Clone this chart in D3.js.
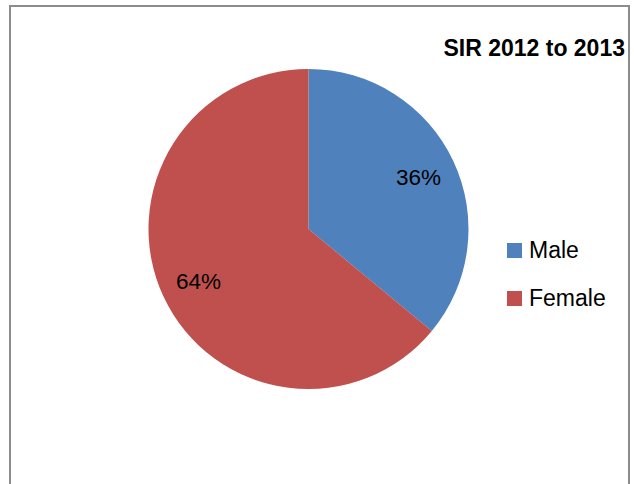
<!DOCTYPE html>
<html>
<head>
<meta charset="utf-8">
<script src="https://cdn.jsdelivr.net/npm/d3@7"></script>
<style>
  html, body { margin: 0; padding: 0; background: #fff; }
  svg { display: block; font-family: "Liberation Sans", Arial, sans-serif; }
</style>
</head>
<body>
<svg id="chart" width="634" height="484"></svg>
<script>
const categories = ["Male", "Female"];
const values = [36, 64];
const colors = ["#4F81BD", "#C0504D"];
const title = "SIR 2012 to 2013";

const svg = d3.select("#chart");

// chart frame
svg.append("rect")
  .attr("x", 10).attr("y", 6)
  .attr("width", 619).attr("height", 490)
  .attr("fill", "#fff")
  .attr("stroke", "#8c8c8c")
  .attr("stroke-width", 2);

const cx = 308.5, cy = 229, r = 160;

const pie = d3.pie().sort(null).value(d => d.value);
const data = categories.map((c, i) => ({ name: c, value: values[i], color: colors[i] }));
const arcs = pie(data);
const arc = d3.arc().innerRadius(0).outerRadius(r);
const labelArc = d3.arc().innerRadius(r * 0.76).outerRadius(r * 0.76);

const g = svg.append("g").attr("transform", `translate(${cx},${cy})`);
g.selectAll("path.slice")
  .data(arcs)
  .join("path")
  .attr("class", "slice")
  .attr("d", arc)
  .attr("fill", d => d.data.color);

const total = d3.sum(values);
g.selectAll("text.lbl")
  .data(arcs)
  .join("text")
  .attr("class", "lbl")
  .attr("transform", d => `translate(${labelArc.centroid(d)})`)
  .attr("text-anchor", "middle")
  .attr("dy", "0.35em")
  .attr("font-size", 22.5)
  .attr("fill", "#000")
  .text(d => Math.round(d.data.value / total * 100) + "%");

// title
svg.append("text")
  .attr("x", 625).attr("y", 56)
  .attr("text-anchor", "end")
  .attr("font-size", 23)
  .attr("font-weight", "bold")
  .attr("fill", "#000")
  .text(title);

// legend
const legend = svg.append("g").attr("transform", "translate(507,243)");
const item = legend.selectAll("g")
  .data(data)
  .join("g")
  .attr("transform", (d, i) => `translate(0,${i * 48})`);
item.append("rect")
  .attr("width", 15).attr("height", 15)
  .attr("fill", d => d.color);
item.append("text")
  .attr("x", 22).attr("y", 15)
  .attr("font-size", 23)
  .attr("fill", "#000")
  .text(d => d.name);
</script>
</body>
</html>
